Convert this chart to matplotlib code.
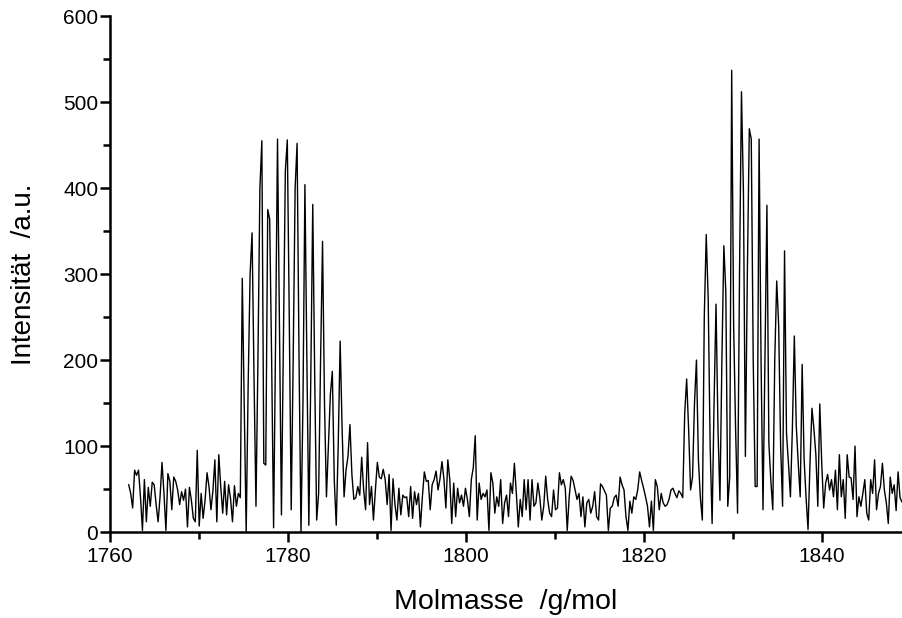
import numpy as np
import matplotlib.pyplot as plt
from matplotlib.ticker import MultipleLocator

plt.rcParams['font.family'] = ['Liberation Sans', 'DejaVu Sans']

# Massenachse: erster Messpunkt und Schrittweite (g/mol)
start_mass = 1762.1
step_mass = 0.22

base_left = [55, 45, 28, 72, 66, 72, 41, 2, 61, 12, 52, 30, 58, 55, 32, 12, 41, 81, 45, 2,
             68, 59, 26, 64, 59, 49, 32, 47, 37, 50, 6, 52, 37, 16, 12, 95, 7, 45, 16, 37,
             69, 53, 26, 48, 84, 12, 90, 53, 22, 59, 20, 55, 39, 12, 54, 30, 45]
peak_1 = [40, 295, 150, 0, 170, 300, 348, 180, 30, 200,
          400, 455, 80, 78, 375, 364, 200, 5, 220, 457,
          240, 20, 220, 420, 456, 250, 26, 200, 400, 452,
          200, 0, 150, 404, 200, 8, 180, 381, 180, 14,
          45, 200, 338, 150, 41, 100, 160, 187, 60, 8,
          100, 222, 120, 41, 72, 88, 125]
base_mid = [67, 38, 40, 53, 43, 87, 49, 26, 104, 32, 53, 14, 49, 81, 64, 62, 73, 61, 32, 67,
            2, 62, 32, 14, 51, 20, 43, 40, 41, 18, 53, 16, 47, 32, 45, 6, 41, 70, 59, 60,
            26, 55, 61, 71, 49, 62, 82, 62, 28, 84, 61, 10, 57, 18, 51, 34, 43, 30, 51, 38,
            18, 61, 75, 112, 14, 57, 38, 45, 41, 49, 2, 69, 57, 22, 41, 30, 61, 10, 34, 43,
            18, 57, 45, 80, 45, 6, 38, 18, 61, 26, 61, 14, 61, 30, 34]
base_mid2 = [57, 40, 14, 30, 65, 38, 22, 18, 49, 26, 28, 69, 55,
             61, 51, 2, 41, 65, 60, 49, 38, 45, 18, 41,
             6, 34, 38, 22, 30, 47, 18, 14, 56, 53, 48,
             43, 2, 28, 30, 40, 43, 30, 64, 55, 49, 18,
             2, 36, 22, 41, 38, 49, 70, 60, 51, 41, 30,
             6, 36, 2, 61, 53, 26, 45, 34, 30, 32,
             38, 49, 51, 45, 40, 48]
peak_2 = [45, 40, 138, 178, 120, 49, 64, 150, 200, 84,
          40, 14, 250, 346, 271, 100, 10, 150, 265, 120,
          37, 200, 333, 279, 30, 64, 537, 240, 120, 22,
          300, 512, 395, 88, 300, 469, 457, 200, 53, 53,
          457, 200, 26, 200, 380, 103, 60, 26, 200, 292,
          240, 100, 30, 327, 115, 80, 41, 120, 228, 123,
          80, 41, 195, 84, 40, 3, 80, 144, 120, 90,
          30, 149, 80, 28, 57]
base_right = [67, 49, 61, 41, 72, 26, 90, 41, 61, 16, 90, 64, 63, 38, 100, 18, 41, 30, 45, 61,
              22, 14, 61, 45, 84, 26, 45, 53, 80, 49, 34, 10, 64, 45, 55, 25, 70, 40, 35]

intensity = np.array(base_left + peak_1 + base_mid + base_mid2 + peak_2 + base_right)
mass = start_mass + step_mass * np.arange(len(intensity))

fig = plt.figure(figsize=(9.02, 6.18), dpi=100)
ax = fig.add_axes([0.122, 0.139, 0.878, 0.835])
ax.plot(mass, intensity, color='black', lw=1.0)

ax.set_xlim(1760, 1849)
ax.set_ylim(0, 600)
ax.xaxis.set_major_locator(MultipleLocator(20))
ax.xaxis.set_minor_locator(MultipleLocator(10))
ax.yaxis.set_major_locator(MultipleLocator(100))
ax.yaxis.set_minor_locator(MultipleLocator(50))

for side in ['top', 'right']:
    ax.spines[side].set_visible(False)
for side in ['left', 'bottom']:
    ax.spines[side].set_linewidth(1.8)
ax.tick_params(which='major', direction='out', length=7, width=1.8, labelsize=15, pad=4)
ax.tick_params(which='minor', direction='out', length=5, width=1.8)
ax.tick_params(axis='y', which='major', pad=1.5)

ax.set_xlabel('Molmasse  /g/mol', fontsize=20.5, labelpad=16)
ax.set_ylabel('Intensität  /a.u.', fontsize=20, labelpad=19)

fig.savefig('out.png', dpi=100)
